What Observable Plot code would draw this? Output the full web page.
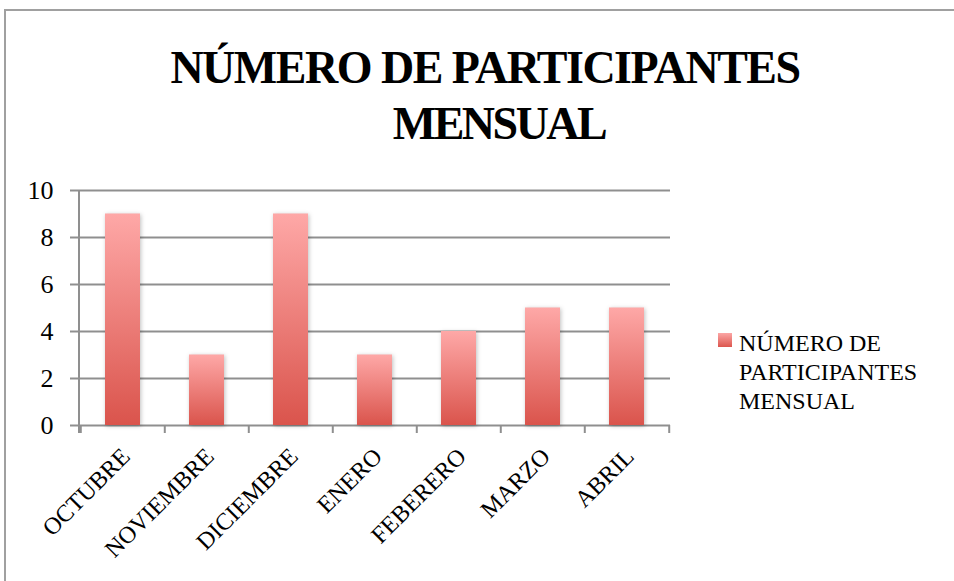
<!DOCTYPE html>
<html>
<head>
<meta charset="utf-8">
<script src="https://cdn.jsdelivr.net/npm/d3@7"></script>
<script src="https://cdn.jsdelivr.net/npm/@observablehq/plot@0.6"></script>
<style>
  html, body { margin: 0; padding: 0; background: #fff; }
  #wrap { position: relative; width: 954px; height: 581px; overflow: hidden; }
  #border { position: absolute; left: 4px; top: 9px; width: 1000px; height: 700px; border-top: 2px solid #a0a0a0; border-left: 2px solid #a0a0a0; }
  #title { position: absolute; left: 85px; width: 800px; top: 40px; text-align: center; font-weight: bold; font-size: 46px; letter-spacing: -1.5px; line-height: 56px; color: #000; white-space: nowrap; }
  #title .l2 { position: relative; left: 14px; letter-spacing: -2.5px; }
  #chart { position: absolute; left: 0; top: 0; }
  #legend { position: absolute; left: 718px; top: 329px; font-size: 24px; line-height: 29px; color: #000; white-space: nowrap; }
  #legend .sw { position: absolute; left: 0; top: 4px; width: 14px; height: 14px; background: linear-gradient(#fca6a5, #dc564e); }
  #legend .txt { margin-left: 21px; }
</style>
</head>
<body>
<div id="wrap">
  <div id="border"></div>
  <div id="title" style="font-family: 'Liberation Serif'">NÚMERO DE PARTICIPANTES<br><span class="l2">MENSUAL</span></div>
  <div id="chart"></div>
  <div id="legend" style="font-family: 'Liberation Serif'"><div class="sw"></div><div class="txt" style="font-family: 'Liberation Serif'">NÚMERO DE<br>PARTICIPANTES<br>MENSUAL</div></div>
</div>
<script>
const months = ["OCTUBRE", "NOVIEMBRE", "DICIEMBRE", "ENERO", "FEBERERO", "MARZO", "ABRIL"];
const participants = [9, 3, 9, 3, 4, 5, 5];
const yTicks = [0, 2, 4, 6, 8, 10];

const data = months.map((m, i) => ({month: m, value: participants[i]}));

const W = 954, H = 581;
const mLeft = 79, mRight = 954 - 670, mTop = 190, mBottom = 581 - 425;
const step = (W - mLeft - mRight) / months.length;
const gray = "#8f8f8f";
const serif = "'Liberation Serif'";

const plot = Plot.plot({
  width: W,
  height: H,
  marginLeft: mLeft,
  marginRight: mRight,
  marginTop: mTop,
  marginBottom: mBottom,
  style: {fontFamily: serif, fontSize: "24px", color: "#000", background: "transparent", overflow: "visible"},
  x: {domain: months, paddingInner: 0.58, paddingOuter: 0.29, label: null},
  y: {domain: [0, 10], label: null},
  marks: [
    Plot.ruleY(yTicks, {stroke: gray, strokeWidth: 2}),
    Plot.ruleX(months, {x: d => d, y1: 0, y2: 0, dx: -step / 2, stroke: gray, strokeWidth: 2, insetBottom: -8}),
    Plot.ruleX([months[months.length - 1]], {x: d => d, y1: 0, y2: 0, dx: step / 2, stroke: gray, strokeWidth: 2, insetBottom: -8}),
    Plot.barY(data, {x: "month", y: "value", fill: "url(#barGrad)"}),
    Plot.axisY({ticks: yTicks, tickSize: 9, tickPadding: 17, stroke: gray, strokeWidth: 2, fontSize: 26, fill: "#000"}),
    Plot.axisX({tickSize: 0, tickRotate: -45, tickPadding: 27, dx: 3, fontSize: 24, fill: "#000"})
  ]
});

const svg = d3.select(plot);
svg.selectAll("text").style("font-family", serif, "important");
const defs = svg.insert("defs", ":first-child");
const grad = defs.append("linearGradient").attr("id", "barGrad").attr("x1", 0).attr("y1", 0).attr("x2", 0).attr("y2", 1);
grad.append("stop").attr("offset", "0%").attr("stop-color", "#fea8a7");
grad.append("stop").attr("offset", "100%").attr("stop-color", "#da544c");
svg.selectAll("g[aria-label='bar'] rect").style("filter", "drop-shadow(1px 1px 2px rgba(0,0,0,0.25))");
// vertical axis line (frame left edge)
const yScale = plot.scale("y");
svg.append("line")
  .attr("x1", mLeft).attr("x2", mLeft)
  .attr("y1", yScale.apply(10)).attr("y2", yScale.apply(0) + 8)
  .attr("stroke", gray).attr("stroke-width", 2);

document.getElementById("chart").appendChild(plot);
document.querySelectorAll("#title, #legend, #legend .txt").forEach(el => el.style.setProperty("font-family", serif, "important"));
</script>
</body>
</html>
